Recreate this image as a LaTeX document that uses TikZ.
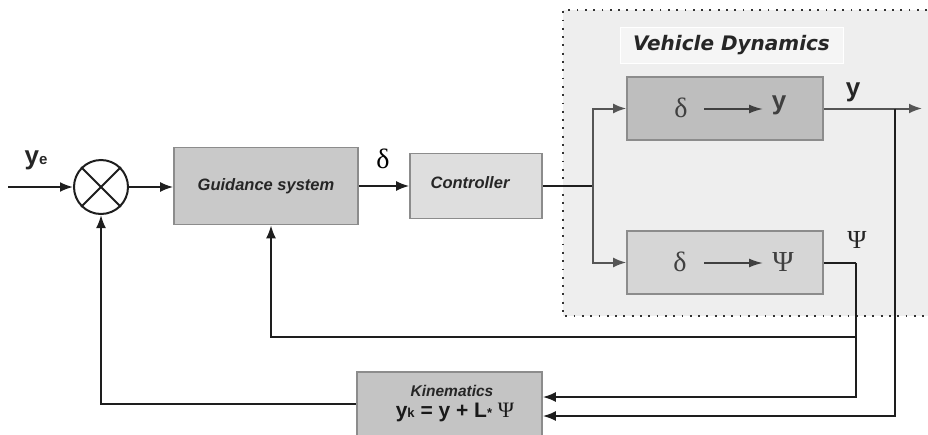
\documentclass[tikz,border=0pt]{standalone}
\usepackage{fontspec}
\usetikzlibrary{arrows.meta,calc}
\newfontfamily\arialf{Liberation Sans}
\newfontfamily\timesf{Liberation Serif}
\newfontfamily\dejavuf{DejaVu Sans}
\definecolor{linec}{HTML}{1E1E1E}
\definecolor{inlinec}{HTML}{555555}
\definecolor{guidfill}{HTML}{C9C9C9}
\definecolor{ctrlfill}{HTML}{DEDEDE}
\definecolor{vdfill}{HTML}{EEEEEE}
\definecolor{topfill}{HTML}{BEBEBE}
\definecolor{botfill}{HTML}{D6D6D6}
\definecolor{kinfill}{HTML}{C4C4C4}
\definecolor{boxborder}{HTML}{8C8C8C}
\tikzset{
  blockbox/.style={draw=boxborder, line width=1.6pt, rectangle, inner sep=0pt},
  conn/.style={draw=linec, line width=2pt},
  arr/.style={conn, -{Latex[length=13pt,width=10pt]}},
  inconn/.style={draw=inlinec, line width=2pt},
  inarr/.style={inconn, -{Latex[length=13pt,width=10pt]}},
  boxlabel/.style={font=\arialf\bfseries\itshape\fontsize{16.5}{18}\selectfont, text=black!85},
}
\begin{document}
\begin{tikzpicture}[x=1pt,y=-1pt]
\useasboundingbox (0,0) rectangle (928,434);
% vehicle dynamics region
\path[fill=vdfill] (563,10) rectangle (928,316);
\draw[line width=1.8pt, dash pattern=on 1.8pt off 6.5pt, draw=black!80] (927,10) -- (563,10) -- (563,316) -- (927,316);
\node[draw=white, line width=1pt, fill=vdfill!60!white, minimum width=223pt, minimum height=36pt, inner sep=0pt,
      font=\dejavuf\bfseries\itshape\fontsize{20}{22}\selectfont, text=black!85] (vdlabel) at (731.5,45) {Vehicle Dynamics};
% blocks
\node[circle, draw=linec, line width=2pt, minimum size=54pt, inner sep=0pt] (sum) at (101,187) {};
\draw[conn] (sum.45) -- (sum.225);
\draw[conn] (sum.135) -- (sum.315);
\node[blockbox, fill=guidfill, minimum width=184pt, minimum height=77pt, boxlabel] (guid) at (266,186) {Guidance system};
\node[blockbox, fill=ctrlfill, minimum width=132pt, minimum height=65pt] (ctrl) at (476,186) {};
\node[boxlabel, inner sep=0pt] (ctrlt) at (470,183) {Controller};
\node[blockbox, fill=topfill, minimum width=196pt, minimum height=63pt] (top) at (725,108.5) {};
\node[blockbox, fill=botfill, minimum width=196pt, minimum height=63pt] (bot) at (725,262.5) {};
\node[blockbox, fill=kinfill, minimum width=185pt, minimum height=64pt, align=center] (kin) at (449.5,404) {};
% texts inside dynamics boxes
\node[font=\timesf\fontsize{28}{28}\selectfont, text=black!75, inner sep=0pt] (d1) at (681,108) {δ};
\node[font=\arialf\bfseries\fontsize{26}{26}\selectfont, text=black!75, inner sep=0pt] (y1) at (779,105) {y};
\coordinate (a1) at (704,109);
\coordinate (b1) at (763,109);
\draw[draw=black!75, line width=1.8pt, -{Latex[length=14pt,width=9pt]}] (a1) -- (b1);
\node[font=\timesf\fontsize{28}{28}\selectfont, text=black!75, inner sep=0pt] (d2) at (680,262) {δ};
\node[font=\timesf\fontsize{29}{29}\selectfont, text=black!75, inner sep=0pt] (p2) at (783,262) {Ψ};
\coordinate (a2) at (704,263);
\coordinate (b2) at (763,263);
\draw[draw=black!75, line width=1.8pt, -{Latex[length=14pt,width=9pt]}] (a2) -- (b2);
% kinematics text
\node[font=\arialf\bfseries\itshape\fontsize{15.5}{17}\selectfont, text=black!85, inner sep=0pt] (kint) at (452,391) {Kinematics};
\node[font=\arialf\bfseries\fontsize{21}{22}\selectfont, text=black!90, inner sep=0pt] (kineq) at (455,412)
  {y{\fontsize{13}{13}\selectfont k} = y + L{\fontsize{13}{13}\selectfont *} {\timesf\mdseries\fontsize{22}{22}\selectfont Ψ}};
% outer labels
\node[font=\arialf\bfseries\fontsize{26}{26}\selectfont, text=black!85, inner sep=0pt] (ye) at (36,160) {y{\fontsize{15}{15}\selectfont e}};
\node[font=\timesf\fontsize{28}{28}\selectfont, inner sep=0pt] (dl) at (383,159) {δ};
\node[font=\arialf\bfseries\fontsize{26}{26}\selectfont, text=black!85, inner sep=0pt] (yl) at (853,92) {y};
\node[font=\timesf\fontsize{26}{26}\selectfont, text=black!85, inner sep=0pt] (pl) at (857,240) {Ψ};
% coordinates
\coordinate (in) at (8,187);
\coordinate (split) at (593,186);
\coordinate (yout) at (922,108.5);
\coordinate (ybr) at (895,108.5);
\coordinate (pcorner) at (856,262.5);
\coordinate (pbr) at (856,337);
% connectors
\draw[arr] (in) -- (sum.west);
\draw[arr] (sum.east) -- (sum.east -| guid.west);
\draw[arr] (guid.east) -- (ctrl.west);
\draw[conn] (ctrl.east) -- (split);
\draw[inarr] (split) |- (top.west);
\draw[inarr] (split) |- (bot.west);
\draw[inarr] (top.east) -- (yout);
\draw[arr] (ybr) |- ($(kin.east)+(0,12)$);
\draw[conn] (bot.east) -- (pcorner);
\draw[arr] (pcorner) |- ($(kin.east)+(0,-7)$);
\draw[arr] (pbr) -| ($(guid.south)+(5,0)$);
\draw[arr] (kin.west) -| (sum.south);
\end{tikzpicture}
\end{document}
